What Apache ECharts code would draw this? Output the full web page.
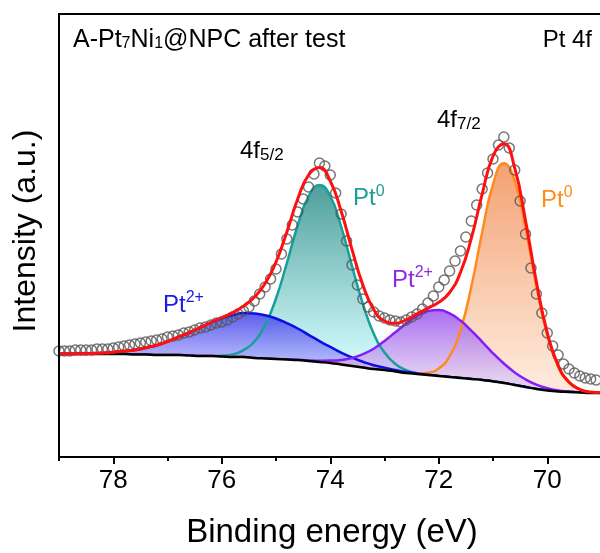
<!DOCTYPE html>
<html>
<head>
<meta charset="utf-8">
<script src="https://cdn.jsdelivr.net/npm/echarts@6/dist/echarts.min.js"></script>
<style>html,body{margin:0;padding:0;background:#fff}#c{width:600px;height:553px}</style>
</head>
<body>
<div id="c"></div>
<script>
// Binding energies (eV) used for the fitted curves
const curveE = [79.0,78.8,78.6,78.4,78.2,78.0,77.8,77.6,77.4,77.2,77.0,76.8,76.6,76.4,76.2,76.0,75.8,75.6,75.4,75.2,75.0,74.8,74.6,74.4,74.2,74.0,73.8,73.6,73.4,73.2,73.0,72.8,72.6,72.4,72.2,72.0,71.8,71.6,71.4,71.2,71.0,70.8,70.6,70.4,70.2,70.0,69.8,69.6,69.4,69.2,69.0];
// Shirley background
const background = [103,103,103,103,103,103,103,102.5,102.5,102,102,102,101.5,101,101,100.5,100,100,99,98.5,98,97.5,97,96,95,94,92.5,91,89.5,88,87,85.5,84,83,82,81,80,79,78,77,75.5,74,72,70,68,66.5,65.5,65,64.5,64,64];
// Pt2+ 4f5/2 (blue)
const pt2_52 = [103.1,103.2,103.3,103.6,104.1,104.8,105.9,107.0,109.3,111.7,115.5,120.0,124.5,129.3,134.5,138.7,141.8,144.0,143.5,141.8,138.5,133.9,128.5,122.2,115.9,110.1,104.4,99.5,95.3,91.8,89.4,87.0,84.9,83.5,82.3,81.1,80,79,78,77,75.5,74,72,70,68,66.5,65.5,65,64.5,64,64];
// Pt0 4f5/2 (teal)
const pt0_52 = [103,103,103,103,103,103,103,102.5,102.5,102,102,102,101.5,101,101,101.3,102.5,106.9,115.2,131.9,158.5,193.8,231.5,260.6,272,260.9,230.5,191.2,153.3,123.6,104.5,93.0,86.8,83.9,82.3,81,80,79,78,77,75.5,74,72,70,68,66.5,65.5,65,64.5,64,64];
// Pt2+ 4f7/2 (purple)
const pt2_72 = [103,103,103,103,103,103,103,102.5,102.5,102,102,102,101.5,101,101,100.5,100,100,99,98.5,98,97.6,97.2,96.6,96.2,96.4,97.1,99.0,102.7,108.2,116.1,124.7,133.4,141.1,146.0,147,143.6,136.4,126.4,115.2,103.7,93.5,84.6,77.6,72.3,68.8,66.6,65.5,64.7,64.1,64];
// Pt0 4f7/2 (orange)
const pt0_72 = [103,103,103,103,103,103,103,102.5,102.5,102,102,102,101.5,101,101,100.5,100,100,99,98.5,98,97.5,97,96,95,94,92.5,91,89.5,88,87,85.5,84.1,83.6,84.3,88.6,100.9,127.1,170.2,224.6,272.6,293.8,276.4,228.7,170.7,122.0,90.5,74.4,67.4,64.8,64.2];
// Envelope (fit)
const fitSum = [103.1,103.2,103.3,103.6,104.1,104.8,105.9,107.0,109.3,111.7,115.5,120.0,124.5,129.3,134.5,139.5,144.3,150.9,159.7,173.5,195.0,225.0,258.0,282.0,289.5,276.0,246.0,207.7,172.3,147.6,136.0,133.7,137.2,143.1,148.9,154.7,164.5,184.5,218.6,262.8,300.8,313.3,289.0,236.3,175.0,124.3,91.6,74.9,67.6,64.9,64.2];
// Measured points
const dataE = [79.0,78.9,78.8,78.7,78.6,78.5,78.4,78.3,78.2,78.1,78.0,77.9,77.8,77.7,77.6,77.5,77.4,77.3,77.2,77.1,77.0,76.9,76.8,76.7,76.6,76.5,76.4,76.3,76.2,76.1,76.0,75.9,75.8,75.7,75.6,75.5,75.4,75.3,75.2,75.1,75.0,74.9,74.8,74.7,74.6,74.5,74.4,74.3,74.2,74.1,74.0,73.9,73.8,73.7,73.6,73.5,73.4,73.3,73.2,73.1,73.0,72.9,72.8,72.7,72.6,72.5,72.4,72.3,72.2,72.1,72.0,71.9,71.8,71.7,71.6,71.5,71.4,71.3,71.2,71.1,71.0,70.9,70.8,70.7,70.6,70.5,70.4,70.3,70.2,70.1,70.0,69.9,69.8,69.7,69.6,69.5,69.4,69.3,69.2,69.1];
const dataI = [106,106,106,107,107,107,107,108,108,108,109,110,111,112,113,114,115,116,117,118,120,121,122,124,125,127,129,130,132,134,135,137,140,143,146,150,156,163,170,178,188,203,218,232,245,258,270,283,294,291,282,264,243,216,192,172,158,150,145,141,139,137,136,135,137,140,143,148,154,161,170,177,186,196,206,220,236,252,268,284,298,312,320,309,287,256,223,189,163,144,124,111,102,93,88,84,81,79,78,77];
// Axis tick values
const xTicks = [70,72,74,76,78];

const FONT = '"Liberation Sans", Arial, Helvetica, sans-serif';
function pairs(xs, ys) { return xs.map((x, i) => [x, ys[i]]); }
function grad(c0, c1, stop) {
  return {type: 'linear', x: 0, y: 0, x2: 0, y2: 1,
    colorStops: [{offset: 0, color: c0}, {offset: stop, color: c1}, {offset: 1, color: c1}]};
}
function comp(name, ys, line, c0, c1, stop) {
  return {name: name, type: 'line', data: pairs(curveE, ys), smooth: 0.5,
    symbol: 'none', silent: true, lineStyle: {color: line, width: 2.5},
    areaStyle: {origin: 'start', color: grad(c0, c1, stop), opacity: 1}, z: 2};
}

const mctx = document.createElement('canvas').getContext('2d');
function run(x, y, pieces, color, align) {
  const widths = pieces.map(p => { mctx.font = p.s + 'px ' + FONT; return mctx.measureText(p.t).width; });
  const total = widths.reduce((a, b) => a + b, 0);
  let cx = align === 'right' ? x - total : (align === 'center' ? x - total / 2 : x);
  return pieces.map((p, i) => {
    const el = {type: 'text', x: cx, y: y + (p.dy || 0), silent: true, z: 100,
      style: {text: p.t, fontSize: p.s, fontFamily: FONT, fill: color, align: 'left', verticalAlign: 'middle'}};
    cx += widths[i];
    return el;
  });
}

const graphics = [].concat(
  run(73, 40, [{t: 'A-Pt', s: 25}, {t: '7', s: 16, dy: 4}, {t: 'Ni', s: 25}, {t: '1', s: 16, dy: 4}, {t: '@NPC after test', s: 25}], '#000', 'left'),
  run(592, 40, [{t: 'Pt 4f', s: 24}], '#000', 'right'),
  run(240, 151, [{t: '4f', s: 24}, {t: '5/2', s: 17, dy: 4}], '#000', 'left'),
  run(437, 120.5, [{t: '4f', s: 24}, {t: '7/2', s: 17, dy: 4}], '#000', 'left'),
  run(353, 198.5, [{t: 'Pt', s: 24}, {t: '0', s: 16, dy: -7}], '#1a9e9a', 'left'),
  run(541, 200, [{t: 'Pt', s: 24}, {t: '0', s: 16, dy: -7}], '#ff8c1a', 'left'),
  run(163, 305, [{t: 'Pt', s: 24}, {t: '2+', s: 16, dy: -7}], '#1a1ae6', 'left'),
  run(392, 280, [{t: 'Pt', s: 24}, {t: '2+', s: 16, dy: -7}], '#8a2be2', 'left'),
  [{type: 'text', x: 332, y: 533, silent: true, z: 100,
    style: {text: 'Binding energy (eV)', fontSize: 33, fontFamily: FONT, fill: '#000', align: 'center', verticalAlign: 'middle'}},
   {type: 'text', x: 26, y: 231, rotation: Math.PI / 2, silent: true, z: 100,
    style: {text: 'Intensity (a.u.)', fontSize: 32, fontFamily: FONT, fill: '#000', align: 'center', verticalAlign: 'middle'}}]
);

const chart = echarts.init(document.getElementById('c'), null, {renderer: 'canvas'});
chart.setOption({
  animation: false,
  backgroundColor: '#fff',
  grid: {left: 59, top: 14, width: 596.75, height: 443, outerBoundsMode: 'none', containLabel: false,
    show: true, borderColor: '#000', borderWidth: 2, backgroundColor: 'transparent'},
  xAxis: [
    {type: 'value', inverse: true, min: 68, max: 79, interval: 2, z: 10,
     axisLine: {show: true, onZero: false, lineStyle: {color: '#000', width: 2}},
     axisTick: {show: true, length: 7, lineStyle: {color: '#000', width: 2}},
     axisLabel: {show: true, color: '#000', fontSize: 26, fontFamily: FONT, margin: 11,
       showMaxLabel: false, showMinLabel: false,
       formatter: v => (xTicks.indexOf(v) >= 0 ? String(v) : '')},
     splitLine: {show: false}},
    {type: 'value', inverse: true, min: 68, max: 79, interval: 1, z: 9, position: 'bottom',
     axisLine: {show: false, onZero: false},
     axisTick: {show: true, length: 4, lineStyle: {color: '#000', width: 2}},
     axisLabel: {show: false}, splitLine: {show: false}}
  ],
  yAxis: {type: 'value', min: 0, max: 443, z: 10,
    axisLine: {show: true, lineStyle: {color: '#000', width: 2}},
    axisTick: {show: false}, axisLabel: {show: false}, splitLine: {show: false}},
  graphic: graphics,
  series: [
    comp('Pt0 4f5/2', pt0_52, '#16a09b', 'rgba(62,150,146,0.92)', 'rgba(196,248,248,0.8)', 0.65),
    comp('Pt0 4f7/2', pt0_72, '#ff8a1e', 'rgba(242,150,98,0.9)', 'rgba(253,228,210,0.8)', 0.75),
    comp('Pt2+ 4f5/2', pt2_52, '#0d0de8', 'rgba(70,70,236,0.88)', 'rgba(160,160,250,0.8)', 0.31),
    comp('Pt2+ 4f7/2', pt2_72, '#8420f5', 'rgba(155,85,236,0.85)', 'rgba(220,198,243,0.8)', 0.46),
    {name: 'Background', type: 'line', data: pairs(curveE, background), smooth: 0.5, symbol: 'none', silent: true,
     lineStyle: {color: '#000', width: 2.5}, areaStyle: {origin: 'start', color: '#fff', opacity: 1}, z: 3},
    {name: 'Raw', type: 'scatter', data: pairs(dataE, dataI), symbol: 'circle', symbolSize: 10, silent: true,
     itemStyle: {color: 'rgba(255,255,255,0)', borderColor: '#555', borderWidth: 1.5}, z: 4},
    {name: 'Fit', type: 'line', data: pairs(curveE, fitSum), smooth: 0.5, symbol: 'none', silent: true,
     lineStyle: {color: '#ff1010', width: 3}, z: 5}
  ]
});
</script>
</body>
</html>
